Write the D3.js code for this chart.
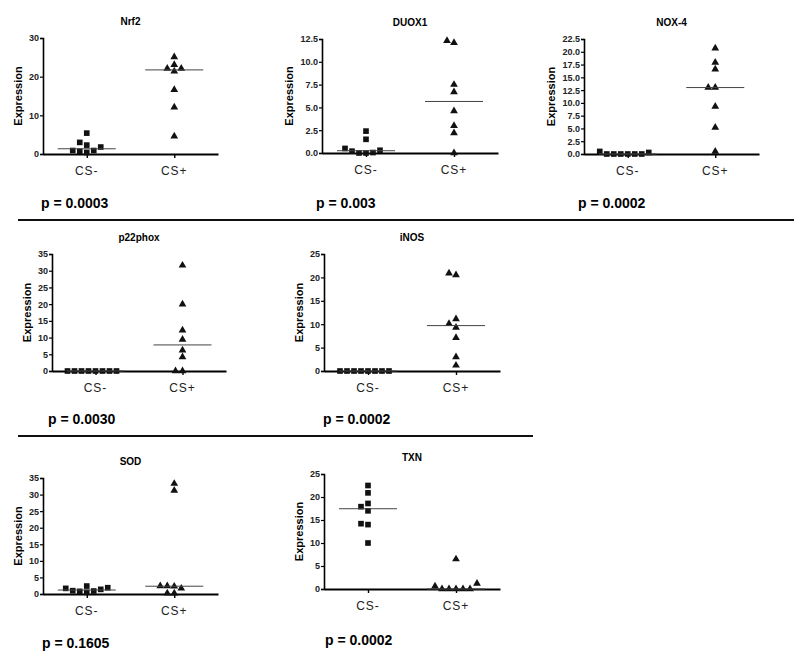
<!DOCTYPE html>
<html>
<head>
<meta charset="utf-8">
<script src="https://cdn.jsdelivr.net/npm/d3@7"></script>
<style>
  body { margin: 0; background: #fff; }
  svg { font-family: 'Liberation Sans', Arial, sans-serif; }
  .title { font-size: 10px; font-weight: bold; }
  .ylab { font-size: 11px; font-weight: bold; }
  .axis text { font-size: 9px; font-weight: bold; fill: #222; }
  .cat { font-size: 12px; fill: #222; }
  .pval { font-size: 14px; font-weight: bold; }
</style>
</head>
<body>
<svg id="chart" width="800" height="657"></svg>
<script>
const groups = ['CS-', 'CS+']
const genes = ['Nrf2', 'DUOX1', 'NOX-4', 'p22phox', 'iNOS', 'SOD', 'TXN']
const pValues = ['p = 0.0003', 'p = 0.003', 'p = 0.0002', 'p = 0.0030', 'p = 0.0002', 'p = 0.1605', 'p = 0.0002']

// y axis max and tick step per gene
const yMax = [30, 12.5, 22.5, 35, 25, 35, 25]
const yStep = [10, 2.5, 2.5, 5, 5, 5, 5]

// expression values
const nrf2Neg = [5.4, 3.0, 1.8, 2.3, 0.9, 0.4, 0.7, 0.9]
const nrf2Pos = [23.1, 25.1, 22.1, 21.4, 22.1, 16.6, 12.1, 4.6]
const duox1Neg = [2.4, 1.5, 0.3, 0.0, 0.0, 0.05, 0.2, 0.5]
const duox1Pos = [12.1, 12.3, 7.5, 6.7, 4.6, 3.0, 2.2, 0.0]
const nox4Neg = [0, 0, 0, 0, 0.3, 0.5, 0, 0]
const nox4Pos = [20.7, 17.9, 16.6, 13.0, 13.0, 9.3, 5.2, 0.5]
const p22Neg = [0, 0, 0, 0, 0, 0, 0, 0]
const p22Pos = [31.6, 20.0, 12.2, 9.4, 6.2, 4.2, 0, 0]
const inosNeg = [0, 0, 0, 0, 0, 0, 0, 0]
const inosPos = [20.9, 20.5, 11.1, 10.1, 9.3, 7.1, 3.0, 1.2]
const sodNeg = [1.9, 1.4, 1.0, 0.5, 2.4, 0.8, 0.9, 1.7]
const sodPos = [33.3, 31.2, 2.4, 1.7, 0.2, 0.2, 2.3, 2.4]
const txnNeg = [22.5, 20.9, 18.6, 17.9, 17.0, 14.2, 14.0, 10.0]
const txnPos = [1.2, 0, 0, 0, 0, 0, 0.6, 6.5]

const values = [
  [nrf2Neg, nrf2Pos], [duox1Neg, duox1Pos], [nox4Neg, nox4Pos],
  [p22Neg, p22Pos], [inosNeg, inosPos], [sodNeg, sodPos], [txnNeg, txnPos]
]

// panel frames: axis origin, top, right end, p-value baseline
const frames = [
  {x0: 43, top: 38, zero: 154, x1: 218, px: 41, py: 208},
  {x0: 322, top: 39, zero: 153, x1: 498, px: 316, py: 208},
  {x0: 584, top: 39, zero: 154, x1: 759, px: 578, py: 208},
  {x0: 52, top: 254, zero: 371, x1: 226, px: 48, py: 424},
  {x0: 324, top: 254, zero: 371, x1: 500, px: 323, py: 424},
  {x0: 43, top: 478, zero: 594, x1: 218, px: 42, py: 648},
  {x0: 324, top: 474, zero: 589, x1: 500, px: 325, py: 645}
]

const svg = d3.select('#chart')

const symbols = [
  d3.symbol().type(d3.symbolSquare).size(32)(),
  d3.symbol().type(d3.symbolTriangle).size(26)()
]

// simple dodge: spread points that would overlap vertically
const dodge = (vals, y, gap, minDy) => {
  const placed = []
  const order = vals.map((v, i) => i).sort((a, b) => vals[a] - vals[b])
  const out = new Array(vals.length)
  order.forEach((i) => {
    const yy = y(vals[i])
    for (let k = 0; k < 20; k++) {
      const off = k === 0 ? 0 : (k % 2 ? -Math.ceil(k / 2) : Math.ceil(k / 2))
      const hit = placed.some((p) => p.off === off && Math.abs(p.y - yy) < minDy)
      if (!hit) {
        placed.push({off, y: yy})
        out[i] = off * gap
        break
      }
    }
  })
  return out
}

genes.forEach((gene, gi) => {
  const f = frames[gi]
  const g = svg.append('g')

  const x = d3.scalePoint().domain(groups).range([f.x0, f.x1]).padding(0.5)
  const y = d3.scaleLinear().domain([0, yMax[gi]]).range([f.zero, f.top])
  const ticks = d3.range(0, yMax[gi] + 1e-9, yStep[gi])
  const fmt = yStep[gi] % 1 ? d3.format('.1f') : d3.format('d')

  g.append('text').attr('class', 'title')
    .attr('x', (f.x0 + f.x1) / 2).attr('y', f.top - 13)
    .attr('text-anchor', 'middle').text(gene)

  const yAxis = g.append('g').attr('class', 'axis')
    .attr('transform', `translate(${f.x0},0)`)
    .call(d3.axisLeft(y).tickValues(ticks).tickFormat(fmt).tickSize(3).tickPadding(1))
  yAxis.select('.domain').attr('stroke-width', 1.6)
  yAxis.selectAll('.tick line').attr('stroke-width', 1.2)

  // place the axis title just left of the widest tick label
  const labelW = d3.max(yAxis.selectAll('.tick text').nodes(), (n) => n.getComputedTextLength())
  g.append('text').attr('class', 'ylab')
    .attr('transform', `translate(${f.x0 - 4 - labelW - 7},${(f.top + f.zero) / 2}) rotate(-90)`)
    .attr('text-anchor', 'middle').text('Expression')

  const xAxis = g.append('g').attr('class', 'axis')
    .attr('transform', `translate(0,${f.zero})`)
    .call(d3.axisBottom(x).tickSize(4).tickSizeOuter(0).tickFormat(''))
  xAxis.select('.domain').attr('stroke-width', 1.8)
  xAxis.selectAll('.tick line').attr('stroke-width', 1.4)

  g.selectAll('.cat').data(groups).enter().append('text')
    .attr('class', 'cat')
    .attr('x', (d) => x(d)).attr('y', f.zero + 21)
    .attr('text-anchor', 'middle')
    .style('letter-spacing', '1px')
    .text((d) => d)

  groups.forEach((grp, k) => {
    const vals = values[gi][k]
    const offs = dodge(vals, y, 7, 6)
    g.selectAll(null).data(vals).enter().append('path')
      .attr('d', symbols[k])
      .attr('transform', (d, i) => `translate(${x(grp) + offs[i]},${y(d)})`)
      .attr('fill', '#111')

    const med = d3.median(vals)
    g.append('line')
      .attr('x1', x(grp) - 29).attr('x2', x(grp) + 29)
      .attr('y1', y(med)).attr('y2', y(med))
      .attr('stroke', '#444').attr('stroke-width', 1)
  })

  svg.append('text').attr('class', 'pval')
    .attr('x', f.px).attr('y', f.py).text(pValues[gi])
})

// separators between the rows
svg.append('line').attr('x1', 18).attr('x2', 794).attr('y1', 220).attr('y2', 220)
  .attr('stroke', '#111').attr('stroke-width', 2)
svg.append('line').attr('x1', 18).attr('x2', 533).attr('y1', 436).attr('y2', 436)
  .attr('stroke', '#111').attr('stroke-width', 2)
</script>
</body>
</html>
